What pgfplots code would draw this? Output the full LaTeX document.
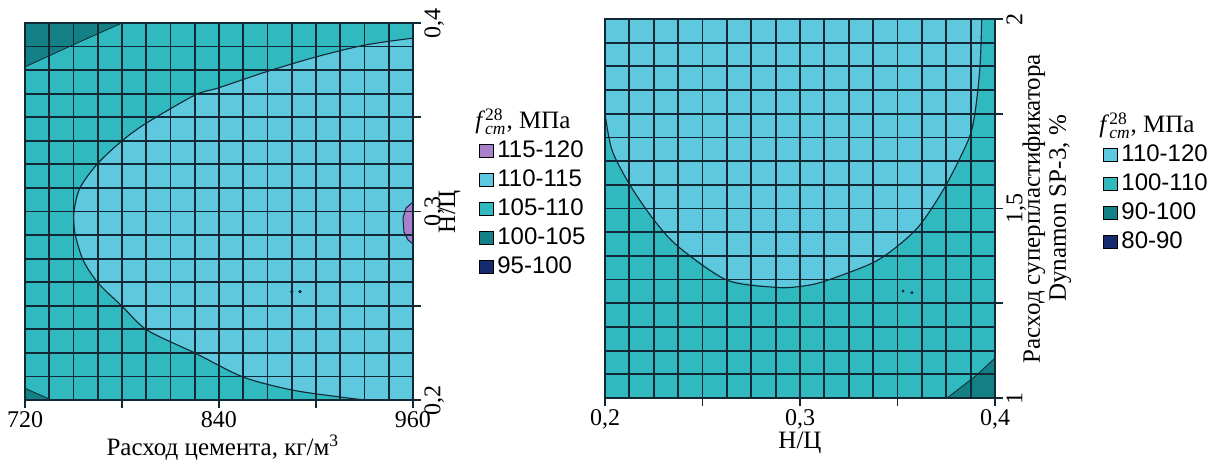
\documentclass[border=0pt]{standalone}
\usepackage{pgfplots}
\pgfplotsset{compat=1.18}
\usepackage{amsmath}
\usepackage{fontspec}
\setmainfont{Liberation Serif}
\newfontfamily\legfont{Liberation Sans}

\definecolor{cA}{RGB}{168,128,204}
\definecolor{cB}{RGB}{94,200,222}
\definecolor{cC}{RGB}{48,186,192}
\definecolor{cD}{RGB}{18,128,132}
\definecolor{cE}{RGB}{22,42,110}
\definecolor{gridc}{RGB}{18,40,52}

\pgfplotsset{
  myaxis/.style={
    scale only axis, axis on top,
    axis background/.style={fill=cC},
    tick align=outside, xtick pos=bottom, ytick pos=right, yticklabel pos=right,
    major tick length=4pt, minor tick length=0pt,
    minor x tick num=3, minor y tick num=3,
    grid=both,
    major grid style={gridc, line width=0.9pt},
    minor grid style={gridc, line width=0.9pt},
    axis line style={gridc, line width=0.9pt},
    every tick/.style={gridc, line width=0.8pt},
    /pgf/number format/assume math mode=true,
    tick label style={font=\rmfamily\fontsize{12}{14}\selectfont},
    xticklabel style={inner sep=1.5pt},
    yticklabel style={rotate=90, anchor=north, inner sep=1.5pt},
    label style={font=\rmfamily\fontsize{12.5}{13}\selectfont},
    legend image code/.code={\fill[##1] (0pt,-3.3pt) rectangle (6.6pt,3.3pt);},
    legend cell align=left,
    legend style={draw=none, fill=none, inner sep=0pt, anchor=north west,
      font=\legfont\fontsize{12}{14}\selectfont, row sep=0.6pt},
  }
}
\newcommand{\leghead}{\hspace*{-11pt}\rmfamily\fontsize{12.5}{15}\selectfont\textit{f}$_{\textit{cm}}^{\textnormal{28}}$, МПа\rule[-5pt]{0pt}{1pt}}

\begin{document}
\begin{tikzpicture}
\useasboundingbox (-12.5pt,-34pt) rectangle (592.5pt,200pt);
% ---------------- left ----------------
\begin{axis}[myaxis, at={(0pt,0pt)}, anchor=south west,
  width=194pt, height=188.5pt,
  xmin=720, xmax=960, ymin=0.2, ymax=0.4,
  xtick={720,780,840,900,960}, xticklabels={720,,840,,960},
  ytick={0.2,0.25,0.3,0.35,0.4}, yticklabels={{0,2},{},{0,3},{},{0,4}},
  xlabel={Расход цемента, кг/м\textsuperscript{3}},
  xlabel style={at={(axis description cs:0.51,-0.127)}, anchor=center},
  ylabel={Н/Ц},
  ylabel style={at={(axis description cs:1.094,0.5)}, anchor=center},
  legend style={at={(axis description cs:1.17,0.785)}},
]
\addplot[fill=cB, draw=none, forget plot] coordinates {
 (960,0.392) (930.3,0.3883) (900.4,0.3821) (869.5,0.3742) (839.4,0.3655)
 (825.2,0.3618) (795.3,0.347) (780.6,0.3379) (765.2,0.3257) (754.0,0.3125)
 (750.3,0.2997) (750.9,0.2886) (755.9,0.2743) (765.2,0.2621) (780.6,0.2493)
 (795.5,0.2371) (825.2,0.2249) (854.9,0.2122) (885.2,0.2053) (914.9,0.2016)
 (930.3,0.2) (960,0.2)} -- cycle;
\addplot[gridc, line width=0.55pt, smooth, forget plot] coordinates {
 (960,0.392) (930.3,0.3883) (900.4,0.3821) (869.5,0.3742) (839.4,0.3655)
 (825.2,0.3618) (795.3,0.347) (780.6,0.3379) (765.2,0.3257) (754.0,0.3125)
 (750.3,0.2997) (750.9,0.2886) (755.9,0.2743) (765.2,0.2621) (780.6,0.2493)
 (795.5,0.2371) (825.2,0.2249) (854.9,0.2122) (885.2,0.2053) (914.9,0.2016)
 (930.3,0.2)};
\addplot[fill=cD, draw=gridc, line width=0.4pt, forget plot] coordinates {
 (720,0.4) (780,0.4) (750,0.3885) (720,0.3767)} -- cycle;
\addplot[fill=cD, draw=gridc, line width=0.4pt, forget plot] coordinates {
 (720,0.2) (720,0.2062) (736.5,0.2)} -- cycle;
\addplot[fill=cA, draw=gridc, line width=0.5pt, forget plot] coordinates {
 (960,0.3050) (955.7,0.3019) (953.8,0.2966) (954.4,0.2891) (956.9,0.2849) (960,0.2828)} -- cycle;
\addplot[only marks, mark=*, mark size=0.6pt, gridc, forget plot] coordinates {
 (885,0.2575) (890.1,0.2575)};
\addlegendimage{empty legend}
\addlegendentry{\leghead}
\addlegendimage{fill=cA}\addlegendentry{115-120}
\addlegendimage{fill=cB}\addlegendentry{110-115}
\addlegendimage{fill=cC}\addlegendentry{105-110}
\addlegendimage{fill=cD}\addlegendentry{100-105}
\addlegendimage{fill=cE}\addlegendentry{95-100}
\end{axis}
% ---------------- right ----------------
\begin{axis}[myaxis, at={(290pt,1pt)}, anchor=south west,
  width=195pt, height=189.5pt,
  xmin=0.2, xmax=0.4, ymin=1, ymax=2,
  xtick={0.2,0.25,0.3,0.35,0.4}, xticklabels={{0,2},{},{0,3},{},{0,4}},
  ytick={1,1.25,1.5,1.75,2}, yticklabels={{1},{},{1,5},{},{2}},
  xlabel={Н/Ц},
  xlabel style={at={(axis description cs:0.5,-0.118)}, anchor=center},
  ylabel={Расход суперпластификатора\\Dynamon SP-3, \%},
  ylabel style={at={(axis description cs:1.133,0.5)}, anchor=center, align=center},
  legend style={at={(axis description cs:1.277,0.765)}},
]
\addplot[fill=cB, draw=none, forget plot] coordinates {
 (0.2,2) (0.2,1.7512) (0.2036,1.654) (0.2128,1.562) (0.2251,1.4697) (0.2376,1.3992)
 (0.2624,1.3113) (0.2872,1.2921) (0.2991,1.2937) (0.3119,1.3069) (0.3368,1.3554)
 (0.3496,1.3992) (0.3615,1.4565) (0.3744,1.5575) (0.3863,1.6807) (0.3897,1.7512)
 (0.3923,1.8741) (0.3932,2)} -- cycle;
\addplot[gridc, line width=0.55pt, smooth, forget plot] coordinates {
 (0.2,1.7512) (0.2036,1.654) (0.2128,1.562) (0.2251,1.4697) (0.2376,1.3992)
 (0.2624,1.3113) (0.2872,1.2921) (0.2991,1.2937) (0.3119,1.3069) (0.3368,1.3554)
 (0.3496,1.3992) (0.3615,1.4565) (0.3744,1.5575) (0.3863,1.6807) (0.3897,1.7512)
 (0.3923,1.8741) (0.3932,2)};
\addplot[fill=cD, draw=gridc, line width=0.4pt, forget plot] coordinates {
 (0.3754,1) (0.39,1.058) (0.4,1.1055) (0.4,1)} -- cycle;
\addplot[only marks, mark=*, mark size=0.5pt, gridc, forget plot] coordinates {
 (0.3528,1.282) (0.3574,1.278)};
\addlegendimage{empty legend}
\addlegendentry{\leghead}
\addlegendimage{fill=cB}\addlegendentry{110-120}
\addlegendimage{fill=cC}\addlegendentry{100-110}
\addlegendimage{fill=cD}\addlegendentry{90-100}
\addlegendimage{fill=cE}\addlegendentry{80-90}
\end{axis}
\end{tikzpicture}
\end{document}
